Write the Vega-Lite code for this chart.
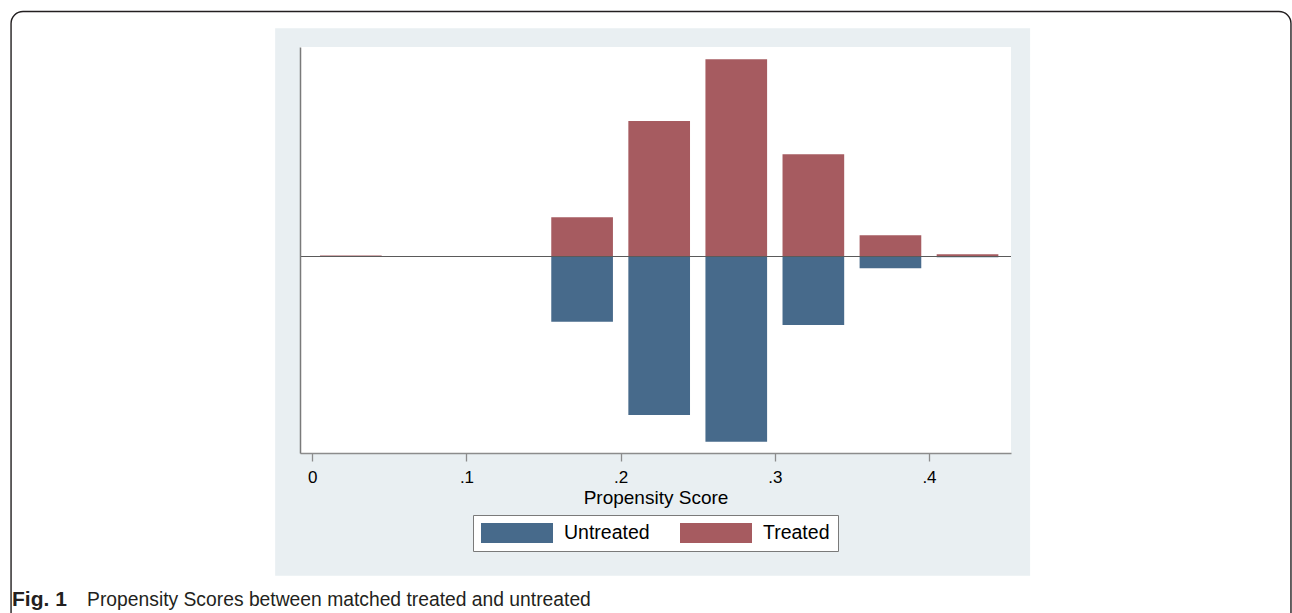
{
  "$schema": "https://vega.github.io/schema/vega-lite/v6.json",
  "width": 711,
  "height": 406,
  "autosize": {"type": "none"},
  "padding": {"left": 300, "top": 47, "right": 281, "bottom": 160},
  "background": "white",
  "config": {
    "view": {"stroke": null},
    "font": "Liberation Sans"
  },
  "layer": [
    {
      "data": {"values": [{}]},
      "mark": {"type": "rect", "filled": false, "stroke": "#231f20", "strokeWidth": 1.4, "cornerRadius": 12, "clip": false},
      "encoding": {
        "x": {
          "datum": -0.1954, "type": "quantitative",
          "scale": {"domain": [-0.00798, 0.4532], "nice": false, "zero": false},
          "title": "Propensity Score",
          "axis": {
            "values": [0, 0.1, 0.2, 0.3, 0.4],
            "labelExpr": "datum.value == 0 ? '0' : substring(format(datum.value, '.1f'), 1)",
            "grid": false,
            "zindex": 2,
            "domainColor": "#8c8c8c",
            "domainWidth": 1.3,
            "tickColor": "#8c8c8c",
            "tickWidth": 1.3,
            "tickSize": 8,
            "labelFontSize": 17,
            "labelColor": "#000000",
            "labelPadding": 8,
            "labelFont": "Liberation Sans",
            "titleFont": "Liberation Sans",
            "titleFontSize": 19,
            "titleFontWeight": "normal",
            "titleColor": "#000000",
            "titlePadding": 3
          }
        },
        "x2": {"datum": 0.6348},
        "y": {
          "datum": 24.5, "type": "quantitative",
          "scale": {"domain": [-19.65, 20.95], "nice": false, "zero": false},
          "title": null,
          "axis": {
            "labels": false,
            "ticks": false,
            "grid": false,
            "zindex": 2,
            "domainColor": "#7a7a7a",
            "domainWidth": 1.5,
            "title": null
          }
        },
        "y2": {"datum": -37}
      }
    },
    {
      "data": {"values": [{}]},
      "mark": {"type": "rect", "fill": "#e9eff2", "clip": false},
      "encoding": {
        "x": {"datum": -0.0241, "type": "quantitative", "title": "Propensity Score"},
        "x2": {"datum": 0.4656},
        "y": {"datum": 22.82, "type": "quantitative", "title": null},
        "y2": {"datum": -31.92}
      }
    },
    {
      "data": {"values": [{}]},
      "mark": {"type": "rect", "fill": "#ffffff"},
      "encoding": {
        "x": {"datum": -0.00798, "type": "quantitative", "title": "Propensity Score"},
        "x2": {"datum": 0.4532},
        "y": {"datum": 20.95, "type": "quantitative", "title": null},
        "y2": {"datum": -19.65}
      }
    },
    {
      "data": {
        "values": [
          {"bin_start": 0.005, "bin_end": 0.045, "group": "Treated", "value": 0.1},
          {"bin_start": 0.155, "bin_end": 0.195, "group": "Treated", "value": 3.92},
          {"bin_start": 0.205, "bin_end": 0.245, "group": "Treated", "value": 13.55},
          {"bin_start": 0.255, "bin_end": 0.295, "group": "Treated", "value": 19.72},
          {"bin_start": 0.305, "bin_end": 0.345, "group": "Treated", "value": 10.22},
          {"bin_start": 0.355, "bin_end": 0.395, "group": "Treated", "value": 2.12},
          {"bin_start": 0.405, "bin_end": 0.445, "group": "Treated", "value": 0.22},
          {"bin_start": 0.155, "bin_end": 0.195, "group": "Untreated", "value": -6.52},
          {"bin_start": 0.205, "bin_end": 0.245, "group": "Untreated", "value": -15.85},
          {"bin_start": 0.255, "bin_end": 0.295, "group": "Untreated", "value": -18.52},
          {"bin_start": 0.305, "bin_end": 0.345, "group": "Untreated", "value": -6.85},
          {"bin_start": 0.355, "bin_end": 0.395, "group": "Untreated", "value": -1.18},
          {"bin_start": 0.405, "bin_end": 0.445, "group": "Untreated", "value": -0.07}
        ]
      },
      "mark": {"type": "rect"},
      "encoding": {
        "x": {"field": "bin_start", "type": "quantitative", "title": "Propensity Score"},
        "x2": {"field": "bin_end"},
        "y": {"field": "value", "type": "quantitative", "title": null},
        "y2": {"datum": 0},
        "color": {
          "field": "group",
          "type": "nominal",
          "scale": {"domain": ["Untreated", "Treated"], "range": ["#476a8b", "#a65b60"]},
          "legend": {
            "title": null,
            "orient": "none",
            "legendX": 173,
            "legendY": 468,
            "direction": "horizontal",
            "symbolType": "M-1,-1H6.2V1H-1Z",
            "symbolSize": 400,
            "symbolStrokeWidth": 0,
            "symbolOpacity": 1,
            "labelFontSize": 19.5,
            "labelFont": "Liberation Sans",
            "labelColor": "#000000",
            "labelOffset": 63,
            "columnPadding": 30,
            "padding": 8,
            "strokeColor": "#7a7a7a",
            "fillColor": "#ffffff"
          }
        }
      }
    },
    {
      "data": {"values": [{}]},
      "mark": {"type": "rule", "color": "#5a5a5a", "strokeWidth": 1.2},
      "encoding": {
        "y": {"datum": 0, "type": "quantitative", "title": null}
      }
    },
    {
      "data": {"values": [{}]},
      "mark": {"type": "text", "align": "left", "baseline": "alphabetic", "fontWeight": "bold", "fontSize": 21, "font": "Liberation Sans", "color": "#231f20", "clip": false},
      "encoding": {
        "x": {"datum": -0.1948, "type": "quantitative", "title": "Propensity Score"},
        "y": {"datum": -34.95, "type": "quantitative", "title": null},
        "text": {"value": "Fig. 1"}
      }
    },
    {
      "data": {"values": [{}]},
      "mark": {"type": "text", "align": "left", "baseline": "alphabetic", "fontSize": 19.3, "font": "Liberation Sans", "color": "#231f20", "clip": false},
      "encoding": {
        "x": {"datum": -0.1461, "type": "quantitative", "title": "Propensity Score"},
        "y": {"datum": -34.95, "type": "quantitative", "title": null},
        "text": {"value": "Propensity Scores between matched treated and untreated"}
      }
    }
  ]
}
